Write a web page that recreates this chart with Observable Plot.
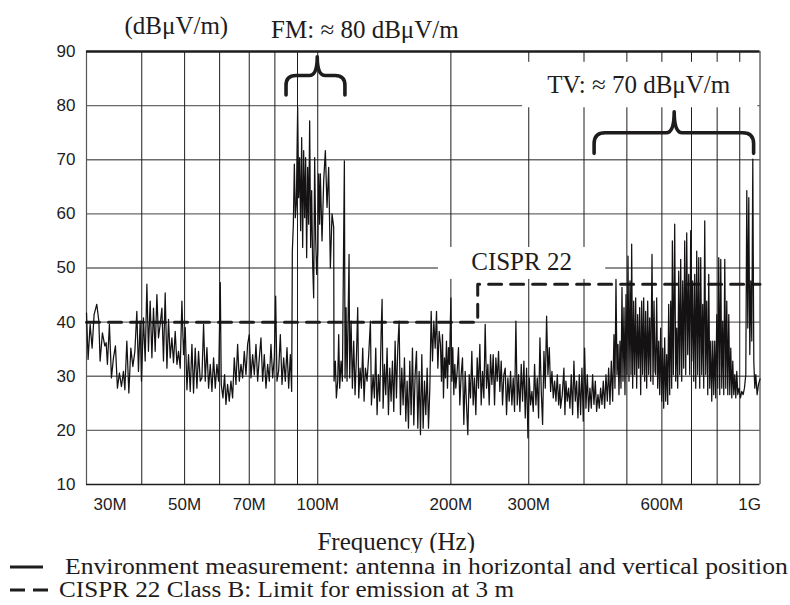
<!DOCTYPE html>
<html><head><meta charset="utf-8">
<script src="https://cdn.jsdelivr.net/npm/d3@7"></script>
<script src="https://cdn.jsdelivr.net/npm/@observablehq/plot@0.6"></script>
<style>
body{margin:0;background:#fff;}
#legend{position:relative;width:790px;height:52px;font-family:"Liberation Serif","Times New Roman",serif;font-size:23px;color:#1e1c1d;white-space:nowrap;}
#legend .row{position:absolute;left:0;height:22px;line-height:22px;width:790px;}
#legend .row span{position:absolute;top:0;transform-origin:0 50%;}
#legend svg{position:absolute;left:0;top:0;}
</style></head>
<body><div id="chart"></div><div id="legend"></div>
<script>
// Environment measurement trace: [frequency MHz, level dBµV/m]
const sweep30to54 = [[30.0,41.7],[30.25,33.1],[30.57,39.6],[30.89,35.2],[31.21,41.4],[31.65,43.3],[31.99,40.2],[32.20,32.8],[32.59,38],[33.0,35.6],[33.23,36.2],[33.45,32.2],[33.80,39.6],[34.16,29.7],[34.52,33.4],[34.88,35.6],[35.24,27.8],[35.61,30.6],[35.99,28.1],[36.36,30.9],[36.63,27.5],[37.01,36.5],[37.40,26.9],[37.79,35.2],[38.19,31.8],[38.59,34.6],[38.99,42],[39.32,30.9],[39.67,40.2],[39.94,29.1],[40.36,40.8],[40.72,32.8],[41.08,47],[41.42,34.6],[41.79,43.9],[42.17,33.4],[42.52,42.6],[42.90,34.6],[43.28,45.1],[43.64,37.1],[44.03,39.6],[44.42,42.6],[44.79,32.8],[45.19,45.4],[45.60,31.5],[45.98,40.5],[46.39,33.4],[46.80,37.1],[47.19,32.5],[47.61,38.3],[48.04,32.2],[48.44,34.6],[48.87,31.5],[49.30,43.9],[49.72,34],[50.16,39],[50.61,27.5],[51.03,34],[51.48,27.2],[51.94,35.9],[52.38,26.9],[52.84,35.2],[53.31,27.8],[53.76,34.6],[54.24,29.1]];
const sweep54to109 = [[54.71,29.7],[55.19,39.6],[55.67,29.1],[56.16,35.3],[56.65,27.8],[57.14,32.2],[57.64,27.2],[58.14,33.4],[58.65,27.8],[59.16,32.2],[59.68,29.1],[60.20,47.3],[60.51,28.5],[61.04,26],[61.57,30.3],[62.0,24.8],[62.54,28.5],[63.09,25.4],[63.64,29.1],[64.19,26],[64.76,33.4],[65.32,28.5],[65.89,35.9],[66.47,29.1],[67.05,32.2],[67.63,29.7],[68.22,34.6],[68.82,30.3],[69.41,35.9],[70.02,37.7],[70.63,29.7],[71.25,34],[71.87,30.3],[72.5,35.9],[73.13,29.1],[73.77,33.4],[74.41,37.1],[75.06,29.1],[75.71,34],[76.37,27.8],[77.04,32.2],[77.71,29.1],[78.39,35.9],[79.07,29.7],[79.76,33.4],[80.32,44.8],[80.88,29.1],[81.58,31],[82.30,37.7],[83.02,28.5],[83.74,33.4],[84.47,29.1],[85.21,35.3],[85.95,27.8],[86.70,34],[87.30,27.2],[87.61,53.1],[88.07,58.1],[88.53,69.2],[88.99,59.3],[89.45,61.8],[90.07,79.7],[90.54,63],[91.01,70.4],[91.49,56.9],[91.97,74.1],[92.45,53.8],[92.93,71.7],[93.42,59.3],[93.90,70.4],[94.39,51.9],[94.88,68.6],[95.38,58.1],[95.88,77.2],[96.38,53.8],[96.88,64.3],[97.39,50.7],[97.90,44.5],[98.41,70.4],[98.92,55.6],[99.44,48.8],[100.0,53.1],[100.48,67.4],[101.0,58.1],[101.36,67.4],[102.25,55],[103.14,66.1],[104.04,71.7],[104.95,61.2],[105.86,68.6],[106.79,50],[107.72,60],[108.66,57.5]];
const sweep109to189 = [[108.85,29.1],[109.61,32.8],[110.18,26],[110.95,29.1],[111.53,37.7],[112.11,27.8],[112.90,32.8],[113.68,29.1],[114.87,69.8],[115.28,29.7],[115.88,42.7],[116.48,29.1],[117.09,40.2],[117.71,52.5],[118.11,29.7],[118.94,40.2],[119.77,27.8],[120.60,36.5],[121.44,26.6],[122.29,33.4],[123.14,42.7],[123.79,26],[124.65,31.5],[125.52,27.8],[126.39,35.2],[127.28,25.4],[128.16,31.5],[129.28,29.1],[130.40,34],[131.55,40.2],[132.24,24.7],[133.39,30.3],[134.32,26],[135.26,35.2],[136.20,22.9],[137.15,30.3],[138.10,25.4],[139.07,37.7],[139.80,44.2],[140.53,24.1],[141.51,32.2],[142.49,26.6],[143.49,35.2],[144.49,22.9],[145.49,31.5],[146.51,25.4],[147.53,32.8],[148.56,23.5],[149.60,36.5],[150.64,26],[151.69,35.2],[152.75,40.2],[153.82,22.9],[154.89,31.5],[155.97,24.7],[157.06,33.4],[158.15,21.7],[159.26,29.1],[160.37,20.4],[161.48,32.8],[162.61,22.9],[163.74,35.2],[164.89,21],[166.04,30.3],[167.20,34.6],[168.36,20.4],[169.54,30.9],[170.72,19.2],[171.91,34],[173.11,20.4],[174.32,29.1],[175.54,22.9],[176.77,31.5],[178.0,20.4],[179.24,27.8],[180.50,42],[181.75,32.8],[183.02,40.2],[184.31,35.2],[185.59,42],[186.88,31.5],[188.19,38.3]];
const sweep189to353 = [[189.44,35.9],[190.44,29.1],[191.43,37.7],[192.43,26],[193.44,33.4],[194.45,29.7],[195.46,36.5],[196.49,27.8],[197.51,35.3],[198.55,32.2],[200.0,44.5],[200.97,29.1],[202.02,35.3],[203.08,26.6],[204.14,32.2],[205.21,27.8],[206.65,30.9],[208.08,35.3],[209.53,24.7],[211.0,30.3],[212.47,33.4],[213.95,21.1],[215.45,30.9],[216.94,24.7],[218.45,19.2],[219.99,30.3],[221.51,26],[223.06,34.6],[224.62,24.7],[226.18,29.7],[227.76,22.9],[229.36,33.4],[230.95,27.8],[232.56,35.9],[234.19,24.7],[235.82,30.9],[237.46,26],[239.12,39.6],[240.79,27.8],[242.46,32.2],[244.16,24.7],[245.86,34],[247.57,28.5],[249.30,34],[251.04,24.7],[252.78,33.4],[254.55,29.1],[256.32,34.6],[258.11,27.2],[259.92,32.8],[261.72,24.7],[263.54,30.3],[265.39,31.5],[267.24,22.9],[269.10,29.7],[270.98,25.4],[272.87,30.9],[274.77,24.7],[276.70,29.7],[278.63,23.5],[280.57,40.2],[282.53,24.7],[284.50,30.3],[286.48,23.5],[288.49,32.2],[290.49,25.4],[292.52,32.8],[294.57,22.3],[296.62,31.5],[298.68,18.6],[300.77,29.7],[302.87,24.7],[304.98,27.2],[307.12,23.5],[309.25,32.2],[311.40,24.7],[313.59,29.7],[315.77,22.3],[317.97,37.1],[320.2,27.2],[322.42,21.1],[324.67,34.6],[326.94,27.8],[329.22,41.1],[331.51,30.3],[333.84,35.3],[336.16,27.2],[338.50,30.9],[340.87,26],[343.23,29.1],[345.62,25.4],[348.05,30.3],[350.47,24.7],[352.91,28.5]];
const sweep354to579 = [[354.06,24.1],[357.16,26.6],[360.27,31.5],[362.15,22.9],[364.04,29.1],[366.59,25.4],[369.15,27.8],[371.71,24.1],[374.32,30.3],[376.92,22.9],[379.54,32.8],[382.2,25.4],[384.86,29.1],[387.54,22.3],[390.26,30.3],[392.97,22.9],[395.71,31.5],[398.48,21.7],[401.25,35.2],[404.04,24.1],[406.88,30.3],[409.71,23.5],[412.56,27.8],[415.45,24.1],[418.34,30.3],[421.25,24.8],[424.21,29.1],[427.15,23.5],[430.13,26.6],[433.14,24.1],[436.16,27.8],[439.19,24.8],[442.27,29.1],[445.34,24.1],[448.44,30.3],[451.59,25.4],[454.73,31.5],[457.89,24.8],[461.1,32.8],[464.31,25.4],[467.54,37.7],[469.98,27.8],[472.44,47.9],[474.91,30.3],[477.39,35.9],[479.88,26.6],[482.39,36.5],[484.91,27.8],[487.45,46.4],[489.99,29.1],[492.55,42.7],[495.13,26.6],[497.72,45.1],[500.32,30.3],[502.93,52.2],[505.56,29.1],[508.20,47.6],[510.86,30.3],[512.65,54.4],[515.33,27.8],[518.02,43.9],[520.73,30.3],[523.45,44.5],[526.18,27.8],[528.94,41.4],[531.7,31.5],[534.48,42.7],[537.27,26.6],[540.08,43.9],[542.90,30.3],[545.74,44.5],[548.59,29.1],[551.46,42],[554.34,27.8],[557.24,43.9],[560.15,30.3],[563.08,40.8],[566.02,29.1],[569.96,52.5],[572.93,28.5],[575.92,43.9],[578.93,30.9]];
const sweep581to1000 = [[580.92,30.3],[583.96,44.5],[587.01,27.8],[590.08,36.5],[593.16,26.6],[596.26,38.9],[599.38,25.4],[602.51,35.2],[605.66,24.1],[608.82,37.1],[612.0,25.4],[615.19,34],[618.42,24.8],[621.65,43.3],[624.9,26.6],[628.17,43.9],[631.45,27.8],[633.66,55],[636.97,30.3],[641.40,58.1],[644.75,29.1],[648.12,38.9],[651.51,27.8],[654.91,49.4],[658.33,30.3],[661.77,51.6],[665.24,29.1],[668.71,47.6],[672.21,31.5],[675.72,55],[679.26,30.3],[682.81,56.5],[686.37,34],[689.96,48.8],[693.57,30.3],[697.19,56.9],[700.84,32.8],[704.50,47.6],[708.18,29.1],[711.89,48.8],[715.61,27.8],[719.35,53.1],[723.1,30.3],[726.89,51.9],[730.69,27.8],[734.5,51.9],[738.34,30.3],[742.2,43.3],[746.08,27.8],[749.98,58.7],[753.9,30.3],[757.84,43.9],[761.8,26.6],[765.78,48.8],[769.78,27.8],[773.81,36.5],[777.85,25.4],[781.92,36.5],[786.0,26.6],[790.11,36.5],[794.24,26],[798.39,41.4],[802.56,27.8],[806.76,51.9],[810.97,26.6],[815.21,51.6],[819.47,27.8],[823.75,40.2],[828.06,26.6],[832.38,51.6],[836.73,27.8],[841.1,43.9],[845.5,26.6],[849.92,41.4],[854.36,26.6],[858.83,35.2],[863.32,26],[867.83,32.8],[872.36,26.6],[876.92,30.3],[881.5,26],[886.11,30.9],[890.74,26.6],[896.94,27.8],[903.23,26],[909.51,27.2],[915.84,26.6],[922.25,27.8],[928.68,30.3],[933.53,64.3],[938.41,38.9],[943.32,63],[948.25,34],[953.2,47.6],[958.18,36.5],[963.2,70.1],[968.23,32.8],[973.29,27.8],[978.38,30.3],[985.18,26.6],[992.09,28.5],[1000,29.5]];

// CISPR 22 Class B limit (3 m)
const limitFreq = [30, 230, 230, 1000];
const limitDb = [40, 40, 47, 47];

// axes
const yTicks = [10, 20, 30, 40, 50, 60, 70, 80, 90];
const xTickValues = [30, 50, 70, 100, 200, 300, 600, 1000];
const xTickLabels = ["30M", "50M", "70M", "100M", "200M", "300M", "600M", "1G"];
const gridFreq = [40, 50, 60, 70, 80, 90, 100, 200, 300, 400, 500, 600, 700, 800, 900];
const gridDb = [20, 30, 40, 50, 60, 70, 80];

// annotations
const noteText = ["FM: ≈ 80 dBμV/m", "TV: ≈ 70 dBμV/m", "CISPR 22"];
const noteFreq = [127.8, 531.8, 289];
const noteDb = [93.97, 83.72, 51.2];
// white boxes behind the in-plot notes
const boxF1 = [290.5, 187.5], boxF2 = [988.6, 447.8], boxDb1 = [79.6, 47.9], boxDb2 = [88.0, 53.8];
// braces: ends, tip frequency, end/bar/tip level
const braceF1 = [85.0, 422.7], braceF2 = [115.5, 969.8], braceTip = [100, 641.4];
const braceEndDb = [81.87, 71.09], braceBarDb = [85.47, 74.9], braceTipDb = [88.95, 78.78];

// legend
const legendLabels = ["Environment measurement: antenna in horizontal and vertical position", "CISPR 22 Class B: Limit for emission at 3 m"];
const legendDash = [null, "15,8"];

const trace = [...sweep30to54, ...sweep54to109, ...sweep109to189, ...sweep189to353, ...sweep354to579, ...sweep581to1000]
  .map(([f, db]) => ({f, db}));
const limit = limitFreq.map((f, i) => ({f, db: limitDb[i]}));
const notes = noteText.map((t, i) => ({t, f: noteFreq[i], db: noteDb[i]}));
const boxes = boxF1.map((f1, i) => ({f1, f2: boxF2[i], d1: boxDb1[i], d2: boxDb2[i]}));
const braces = braceF1.map((f1, i) => ({f1, f2: braceF2[i], fm: braceTip[i], e: braceEndDb[i], b: braceBarDb[i], t: braceTipDb[i]}));

const serif = "'Liberation Serif','Times New Roman',serif";
const sans = "'Liberation Sans',Arial,sans-serif";
const ink = "#1e1c1d";

function braceMark(index, scales) {
  const X = scales.x, Y = scales.y;
  const g = d3.create("svg:g").attr("fill", "none").attr("stroke", ink).attr("stroke-width", 3.6).attr("stroke-linecap", "round").attr("stroke-linejoin", "round");
  braces.forEach(b => {
    const x1 = X(b.f1), x2 = X(b.f2), xm = X(b.fm), ye = Y(b.e), yb = Y(b.b), yt = Y(b.t);
    const r = Math.min(11, (x2 - x1) / 6), r2 = 8;
    const d = `M${x1},${ye} L${x1},${yb + r} Q${x1},${yb} ${x1 + r},${yb} L${xm - r2},${yb} Q${xm},${yb} ${xm},${yt} Q${xm},${yb} ${xm + r2},${yb} L${x2 - r},${yb} Q${x2},${yb} ${x2},${yb + r} L${x2},${ye}`;
    g.append("path").attr("d", d);
  });
  return g.node();
}

const chart = Plot.plot({
  width: 790, height: 553,
  marginLeft: 86, marginRight: 30.5, marginTop: 51, marginBottom: 69,
  x: {type: "log", domain: [30, 1000], axis: null},
  y: {domain: [10, 90], axis: null},
  style: {background: "white", color: ink},
  marks: [
    Plot.ruleY(gridDb, {stroke: "#6a6a6a", strokeWidth: 1.3}),
    Plot.ruleX(gridFreq, {stroke: ink, strokeWidth: 1}),
    Plot.rect(boxes, {x1: "f1", x2: "f2", y1: "d1", y2: "d2", fill: "white"}),
    Plot.ruleX([30], {stroke: "#555", strokeWidth: 1.2}),
    Plot.ruleX([1000], {stroke: ink, strokeWidth: 1}),
    Plot.ruleY([10], {stroke: ink, strokeWidth: 1.3}),
    Plot.ruleY([90], {stroke: ink, strokeWidth: 2.4}),
    Plot.line(limit, {x: "f", y: "db", stroke: ink, strokeWidth: 3, strokeDasharray: "13,9"}),
    Plot.line(trace, {x: "f", y: "db", stroke: "#141213", strokeWidth: 1.25}),
    braceMark,
    Plot.text(notes, {x: "f", y: "db", text: "t", fontFamily: serif, fontSize: 25, fill: ink, lineAnchor: "middle"}),
    Plot.axisY(yTicks, {tickSize: 0, tickPadding: 11, fontFamily: sans, fontSize: 17, fill: ink}),
    Plot.text(xTickValues.slice(1, -1), {x: d => d, text: d => xTickLabels[xTickValues.indexOf(d)], frameAnchor: "bottom", dy: 20, lineAnchor: "middle", fontFamily: sans, fontSize: 17, fill: ink}),
    Plot.text(xTickValues.slice(0, 1), {x: d => d, text: d => xTickLabels[0], frameAnchor: "bottom", dy: 20, dx: 7, textAnchor: "start", lineAnchor: "middle", fontFamily: sans, fontSize: 17, fill: ink}),
    Plot.text(xTickValues.slice(-1), {x: d => d, text: d => xTickLabels[xTickLabels.length - 1], frameAnchor: "bottom", dy: 20, dx: 1, textAnchor: "end", lineAnchor: "middle", fontFamily: sans, fontSize: 17, fill: ink}),
    Plot.text(["(dBμV/m)"], {frameAnchor: "top-left", dx: 38, dy: -26, lineAnchor: "middle", fontFamily: serif, fontSize: 25, fill: ink}),
    Plot.text(["Frequency (Hz)"], {frameAnchor: "bottom", dx: -27, dy: 57, lineAnchor: "middle", fontFamily: serif, fontSize: 25, fill: ink})
  ]
});
document.getElementById("chart").appendChild(chart);

// legend (HTML below the plot)
const legend = d3.select("#legend");
const textLeft = [65, 59], textScale = [1.115, 1.094], symEnd = [43, 50];
legendLabels.forEach((label, i) => {
  const row = legend.append("div").attr("class", "row").style("top", (3 + i * 23) + "px");
  const s = row.append("svg").attr("width", 60).attr("height", 22);
  s.append("line").attr("x1", 10).attr("x2", symEnd[i]).attr("y1", 11).attr("y2", 11)
    .attr("stroke", ink).attr("stroke-width", 3).attr("stroke-dasharray", legendDash[i]);
  row.append("span").style("left", textLeft[i] + "px").style("transform", `scaleX(${textScale[i]})`).text(label);
});
</script>
</body></html>
